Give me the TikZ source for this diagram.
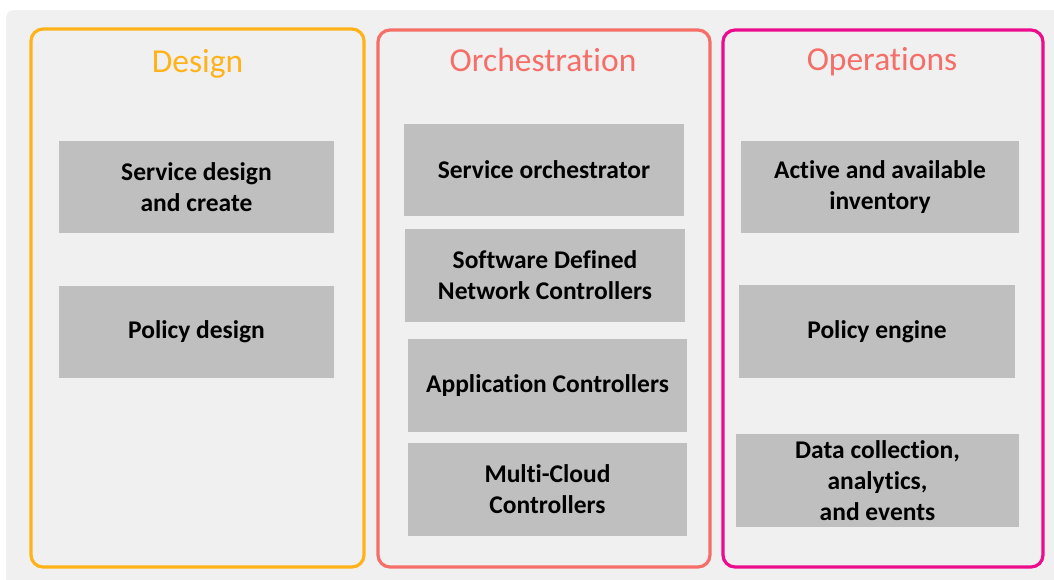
\documentclass[tikz,border=0pt]{standalone}
\usepackage{fontspec}
\setmainfont{Carlito}[Ligatures=NoCommon]
\usetikzlibrary{positioning}

\definecolor{bggray}{HTML}{F0F0F0}
\definecolor{boxgray}{HTML}{BFBFBF}
\definecolor{designorange}{HTML}{FFB21A}
\definecolor{orchred}{HTML}{F56E68}
\definecolor{opsmagenta}{HTML}{EC0C8C}

\begin{document}
\begin{tikzpicture}[x=1pt, y=-1pt,
        frame/.style={line width=3.2pt, rounded corners=12pt},
        title/.style={font=\fontsize{33.5}{36}\selectfont, inner sep=0pt, anchor=base},
        box/.style={fill=boxgray, inner sep=0pt, align=center,
            font=\fontsize{25.5}{31}\selectfont\bfseries}]
        \useasboundingbox (0,0) rectangle (1054,579);
        % Background panel
        \begin{scope}
            \clip (0,0) rectangle (1054,579);
            \fill[bggray, rounded corners=8pt] (6,10) rectangle (1070,595);
        \end{scope}
        % Column frames
        \draw[frame, designorange] (31,29) rectangle (364,567);
        \draw[frame, orchred] (378,30) rectangle (710,567);
        \draw[frame, opsmagenta] (723,30) rectangle (1043,567);
        % Column titles
        \node[title, text=designorange] (design) at (197.5,72) {Design};
        \node[title, text=orchred] (orch) at (543,71) {Orchestration};
        \node[title, text=orchred] (ops) at (882,70.5) {Operations};
        % Design boxes
        \node[box, minimum width=275pt, minimum height=92pt] (svcdesign) at (196.5,187) {Service design\\and create};
        \node[box, minimum width=275pt, minimum height=92pt] (poldesign) at (196.5,332) {Policy design};
        % Orchestration boxes
        \node[box, minimum width=280pt, minimum height=92pt] (svcorch) at (544,170) {Service orchestrator};
        \node[box, minimum width=280pt, minimum height=93pt] (sdnctrl) at (545,275.5) {Software Defined\\Network Controllers};
        \node[box, minimum width=279pt, minimum height=93pt] (appctrl) at (547.5,385.5) {Application Controllers};
        \node[box, minimum width=279pt, minimum height=93pt] (cloudctrl) at (547.5,489.5) {Multi-Cloud\\Controllers};
        % Operations boxes
        \node[box, minimum width=278pt, minimum height=92pt] (inventory) at (880,187) {Active and available\\inventory};
        \node[box, minimum width=276pt, minimum height=93pt] (polengine) at (877,331.5) {Policy engine};
        \node[box, minimum width=283pt, minimum height=93pt] (datacoll) at (877.5,480.5) {Data collection,\\analytics,\\and events};
\end{tikzpicture}
\end{document}
